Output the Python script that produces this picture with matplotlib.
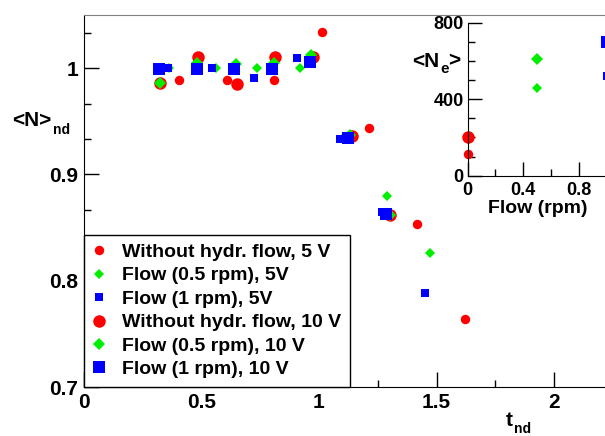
import numpy as np
import matplotlib
matplotlib.use('Agg')
import matplotlib.pyplot as plt
from matplotlib.lines import Line2D
from matplotlib.ticker import MultipleLocator, FixedLocator, FuncFormatter

plt.rcParams['font.family'] = ['Liberation Sans', 'DejaVu Sans']
plt.rcParams['font.weight'] = 'bold'

# main plot data: t_nd vs <N>_nd
t_red5 = [0.403, 0.607, 0.810, 1.013, 1.214, 1.418, 1.621]
n_red5 = [0.9887, 0.9887, 0.989, 1.0337, 0.944, 0.8535, 0.764]
t_green5 = [0.360, 0.560, 0.737, 0.919, 1.103, 1.288, 1.474]
n_green5 = [1.000, 1.000, 1.000, 1.000, 0.934, 0.880, 0.826]
t_blue5 = [0.359, 0.543, 0.725, 0.905, 1.089, 1.269, 1.451]
n_blue5 = [1.000, 1.000, 0.9906, 1.0099, 0.933, 0.8648, 0.7886]
t_red10 = [0.323, 0.486, 0.650, 0.813, 0.976, 1.139, 1.302]
n_red10 = [0.9859, 1.0103, 0.9853, 1.0103, 1.0109, 0.936, 0.8617]
t_green10 = [0.323, 0.482, 0.645, 0.810, 0.966, 1.130, 1.300]
n_green10 = [0.9859, 1.0047, 1.0037, 1.0047, 1.0125, 0.937, 0.862]
t_blue10 = [0.320, 0.480, 0.638, 0.801, 0.962, 1.122, 1.284]
n_blue10 = [0.999, 0.999, 0.999, 0.999, 1.0056, 0.9345, 0.8627]

labels = ['Without hydr. flow, 5 V', 'Flow (0.5 rpm), 5V', 'Flow (1 rpm), 5V',
          'Without hydr. flow, 10 V', 'Flow (0.5 rpm), 10 V', 'Flow (1 rpm), 10 V']

# inset data: flow (rpm) vs <N_e>
flow_5 = [0.0, 0.5, 1.0]
ne_5 = [112, 460, 521]
flow_10 = [0.0, 0.5, 1.0]
ne_10 = [204, 610, 700]

W, H = 605, 436
fig = plt.figure(figsize=(W / 100, H / 100), dpi=100)

def fx(x):
    return x / W

def fy(y):
    return 1 - y / H

# marker styles (marker, size, colour) for 5V and 10V
st5 = [('o', 6.8, 'red'), ('D', 4.7, '#00ee00'), ('s', 6.3, 'blue')]
st10 = [('o', 9.0, 'red'), ('D', 6.1, '#00ee00'), ('s', 8.3, 'blue')]

ax = fig.add_axes([fx(84), 49 / H, 587.5 / W, 372 / H])
series = [(t_red5, n_red5), (t_green5, n_green5), (t_blue5, n_blue5),
          (t_red10, n_red10), (t_green10, n_green10), (t_blue10, n_blue10)]
styles = st5 + st10
handles = []
for (t, n), (m, ms, c) in zip(series, styles):
    ax.plot(t, n, ls='none', marker=m, ms=ms, color=c, mew=0)
    handles.append(Line2D([], [], ls='none', marker=m, ms=ms, color=c, mew=0))

ax.set_xlim(0, 2.5)
ax.set_ylim(0.7, 1.05)
ax.xaxis.set_major_locator(FixedLocator([0, 0.5, 1, 1.5, 2]))
ax.xaxis.set_minor_locator(MultipleLocator(0.25))
ax.yaxis.set_major_locator(MultipleLocator(0.1))
ax.yaxis.set_minor_locator(MultipleLocator(0.1 / 3))
fmt = FuncFormatter(lambda v, p: '%g' % round(v, 3))
ax.xaxis.set_major_formatter(fmt)
ax.yaxis.set_major_formatter(fmt)
ax.tick_params(which='major', direction='in', length=11, width=1, labelsize=15)
ax.tick_params(axis='x', which='major', pad=4.5)
ax.tick_params(axis='y', which='major', pad=4)
ax.tick_params(which='minor', direction='in', length=5, width=1)
ax.spines['right'].set_visible(False)
ax.spines['top'].set_color('#808080')

leg = ax.legend(handles, labels, loc='lower left', bbox_to_anchor=(0, 0),
                borderaxespad=0, prop={'size': 14, 'weight': 'bold'},
                frameon=True, fancybox=False, edgecolor='black', framealpha=1,
                borderpad=0.45, handlelength=0.65, handletextpad=0.85,
                labelspacing=0.3)
leg.get_frame().set_linewidth(1.0)

# axis titles, ROOT style
fig.text(fx(11.7), fy(126), '<N>', size=15, ha='left', va='baseline')
fig.text(fx(53.3), fy(134.3), 'nd', size=10, ha='left', va='baseline')
fig.text(fx(505.7), fy(426), 't', size=15, ha='left', va='baseline')
fig.text(fx(514), fy(436), 'nd', size=10, ha='left', va='bottom')

# inset
axi = fig.add_axes([fx(467.7), (H - 175.7) / H, 152.7 / W, 153 / H])
axi.plot(flow_5[:1], ne_5[:1], ls='none', marker='o', ms=6.8, color='red', mew=0)
axi.plot(flow_10[:1], ne_10[:1], ls='none', marker='o', ms=9.0, color='red', mew=0)
axi.plot(flow_5[1:2], ne_5[1:2], ls='none', marker='D', ms=4.7, color='#00ee00', mew=0)
axi.plot(flow_10[1:2], ne_10[1:2], ls='none', marker='D', ms=6.1, color='#00ee00', mew=0)
axi.plot(flow_5[2:], ne_5[2:], ls='none', marker='s', ms=6.3, color='blue', mew=0)
axi.plot(flow_10[2:], ne_10[2:], ls='none', marker='s', ms=8.3, color='blue', mew=0)
for a in axi.lines:
    a.set_clip_on(False)
axi.set_xlim(0, 1.1)
axi.set_ylim(0, 800)
axi.xaxis.set_major_locator(FixedLocator([0, 0.4, 0.8]))
axi.xaxis.set_minor_locator(MultipleLocator(0.2))
axi.yaxis.set_major_locator(MultipleLocator(400))
axi.yaxis.set_minor_locator(MultipleLocator(100))
axi.xaxis.set_major_formatter(fmt)
axi.yaxis.set_major_formatter(fmt)
axi.tick_params(which='major', direction='in', length=10, width=1, labelsize=13)
axi.tick_params(axis='x', which='major', pad=4.5)
axi.tick_params(axis='y', which='major', pad=3)
axi.tick_params(which='minor', direction='in', length=5, width=1)
axi.spines['top'].set_visible(False)
axi.spines['right'].set_visible(False)

fig.text(fx(537.5), fy(213), 'Flow (rpm)', size=14, ha='center', va='baseline')
fig.text(fx(411.7), fy(66.7), '<N', size=15, ha='left', va='baseline')
fig.text(fx(440), fy(73.3), 'e', size=11, ha='left', va='baseline')
fig.text(fx(448.3), fy(66.7), '>', size=15, ha='left', va='baseline')

fig.savefig('out.png', dpi=100)
